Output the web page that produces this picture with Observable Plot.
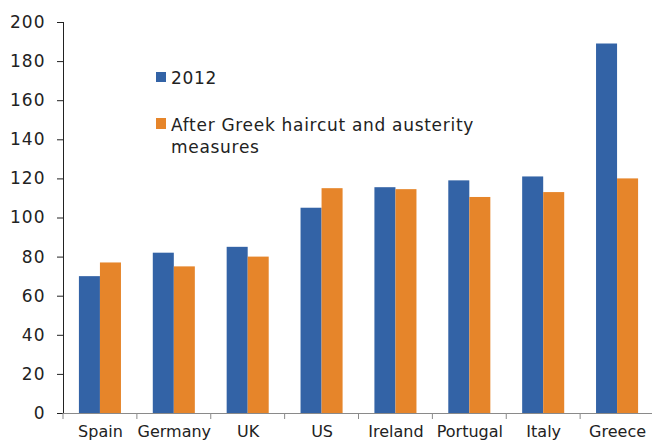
<!DOCTYPE html>
<html><head><meta charset="utf-8">
<script src="https://cdn.jsdelivr.net/npm/d3@7"></script>
<script src="https://cdn.jsdelivr.net/npm/@observablehq/plot@0.6"></script>
<style>
body{margin:0;background:#fff;}
#wrap{position:relative;width:652px;height:443px;font-family:"DejaVu Sans",Verdana,sans-serif;overflow:hidden;}
.item{position:absolute;left:156px;display:flex;align-items:flex-start;font-size:17px;letter-spacing:0.7px;line-height:22px;color:#222;}
.sw{width:10px;height:10px;margin-right:5px;flex:none;}
.lbl{width:330px;}
</style></head><body><div id="wrap"></div>
<script>
const countries = ["Spain","Germany","UK","US","Ireland","Portugal","Italy","Greece"];
const series = ["2012","After Greek haircut and austerity measures"];
const values2012 = [70,82,85,105,115.5,119,121,189];
const valuesAfter = [77,75,80,115,114.5,110.5,113,120];
const colors = ["#3363a6","#e6852a"];
const yTicks = [0,20,40,60,80,100,120,140,160,180,200];

const data = countries.flatMap((c,i)=>[
  {country:c, series:series[0], value:values2012[i]},
  {country:c, series:series[1], value:valuesAfter[i]}
]);

const axisColor = "#8a8a8a";
const chart = Plot.plot({
  width:652, height:443,
  marginLeft:63, marginRight:-2, marginTop:22, marginBottom:30,
  style:{fontFamily:"'DejaVu Sans', Verdana, sans-serif", fontSize:"16px", color:"#222", background:"white", overflow:"visible"},
  fx:{domain:countries, padding:0, round:false, label:null, axis:"bottom", tickSize:0, tickPadding:12},
  x:{domain:series, paddingInner:0, paddingOuter:0.757, round:false, axis:null},
  y:{domain:[0,200], ticks:yTicks, label:null, tickSize:6, tickPadding:12, line:true},
  color:{domain:series, range:colors},
  marks:[
    Plot.barY(data,{fx:"country", x:"series", y:"value", fill:"series"}),
    Plot.ruleY([0], {stroke:axisColor})
  ]
});
d3.select(chart).selectAll("[aria-label='y-axis tick'], [aria-label='y-axis line']").attr("stroke", axisColor);
d3.select(chart).selectAll("[aria-label='y-axis tick label']").style("font-size","17px").style("letter-spacing","1px");
document.getElementById("wrap").appendChild(chart);

// category boundary ticks from the fx scale
const fxs = chart.scale("fx"), ys = chart.scale("y");
const band = d3.scaleBand().domain(fxs.domain).range(fxs.range).paddingInner(fxs.paddingInner||0).paddingOuter(fxs.paddingOuter||0).align(fxs.align ?? 0.5);
if (fxs.round) band.round(true);
const y0 = ys.range[0];
const g = d3.select(chart).append("g").attr("stroke", axisColor);
countries.forEach(c => {
  const x = band(c);
  g.append("line").attr("x1", x).attr("x2", x).attr("y1", y0).attr("y2", y0 + 6);
});

// legend
const wrap = document.getElementById("wrap");
const tops = [67, 114];
const swTop = [5, 4];
series.forEach((s,i)=>{
  const it = document.createElement("div");
  it.className = "item";
  it.style.top = tops[i] + "px";
  it.innerHTML = `<div class="sw" style="background:${colors[i]};margin-top:${swTop[i]}px;height:${i?11:10}px"></div><div class="lbl">${s}</div>`;
  wrap.appendChild(it);
});
</script>
</body></html>
